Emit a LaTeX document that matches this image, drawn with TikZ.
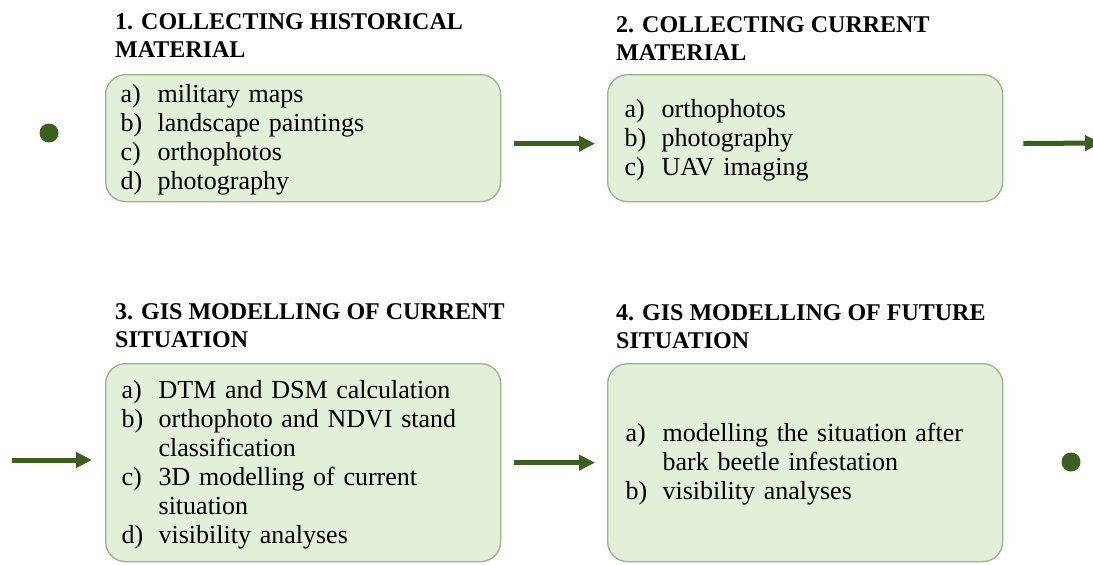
\documentclass[tikz,border=0pt]{standalone}
\usepackage{fontspec}
\setmainfont{Liberation Serif}
\usetikzlibrary{arrows.meta}
\definecolor{dkgreen}{HTML}{3A5F1F}
\definecolor{boxfill}{HTML}{E2EFD9}
\definecolor{boxline}{HTML}{9AB38C}
\newcommand{\itm}[1]{\makebox[37pt][l]{#1}}
\newcommand{\cnt}{\hspace*{37pt}}
\newcommand{\firstl}{\rule{0pt}{22pt}}
\tikzset{
  stepbox/.style={draw=boxline, line width=1.3pt, fill=boxfill, rounded corners=20pt,
    minimum width=395pt, inner xsep=15pt, inner ysep=0pt, text width=365pt, align=left,
    font=\fontsize{26}{29}\selectfont, anchor=north west},
  titlebox/.style={anchor=north west, inner sep=0pt, align=left,
    font=\fontsize{24}{28.5}\selectfont\bfseries},
  arr/.style={draw=dkgreen, line width=5pt, -{Triangle[length=16pt,width=15pt]}},
  dotnode/.style={circle, fill=dkgreen, minimum size=19pt, inner sep=0pt}
}
\begin{document}
\begin{tikzpicture}[x=1pt,y=-1pt]
\useasboundingbox (0,0) rectangle (1093,565);
% titles
\node[titlebox] (t1) at (115,13) {1. COLLECTING HISTORICAL\\MATERIAL};
\node[titlebox] (t2) at (616,16) {2. COLLECTING CURRENT\\MATERIAL};
\node[titlebox] (t3) at (115,303) {3. GIS MODELLING OF CURRENT\\SITUATION};
\node[titlebox] (t4) at (616,304) {4. GIS MODELLING OF FUTURE\\SITUATION};
% boxes
\node[stepbox, minimum height=127pt] (b1) at (105,74) {%
\firstl\itm{a)}military maps\\\itm{b)}landscape paintings\\\itm{c)}orthophotos\\\itm{d)}photography};
\node[stepbox, minimum height=127pt, inner xsep=17pt, text width=361pt] (b2) at (607,74) {%
\firstl\itm{a)}orthophotos\\\itm{b)}photography\\\itm{c)}UAV imaging};
\node[stepbox, minimum height=198pt, inner xsep=16pt, text width=363pt] (b3) at (105,363) {%
\firstl\itm{a)}DTM and DSM calculation\\\itm{b)}orthophoto and NDVI stand\\\cnt classification\\\itm{c)}3D modelling of current\\\cnt situation\\\itm{d)}visibility analyses};
\node[stepbox, minimum height=198pt, inner xsep=18pt, text width=359pt] (b4) at (607,363) {%
\firstl\itm{a)}modelling the situation after\\\cnt bark beetle infestation\\\itm{b)}visibility analyses};
% start and end dots
\node[dotnode] (start) at (49,133) {};
\node[dotnode] (finish) at (1071,462) {};
% connectors
\coordinate (outR) at (1101,143);
\coordinate (inL) at (12,460);
\draw[arr, shorten <=13pt, shorten >=12pt] ([yshift=-5.5pt]b1.east) -- ([yshift=-5.5pt]b2.west);
\draw[arr, shorten <=20pt] ([yshift=-5.5pt]b2.east) -- (outR);
\draw[arr, shorten >=13pt] (inL) -- (inL -| b3.west);
\draw[arr, shorten <=13pt, shorten >=12pt] (b3.east) -- (b4.west);
\end{tikzpicture}
\end{document}
